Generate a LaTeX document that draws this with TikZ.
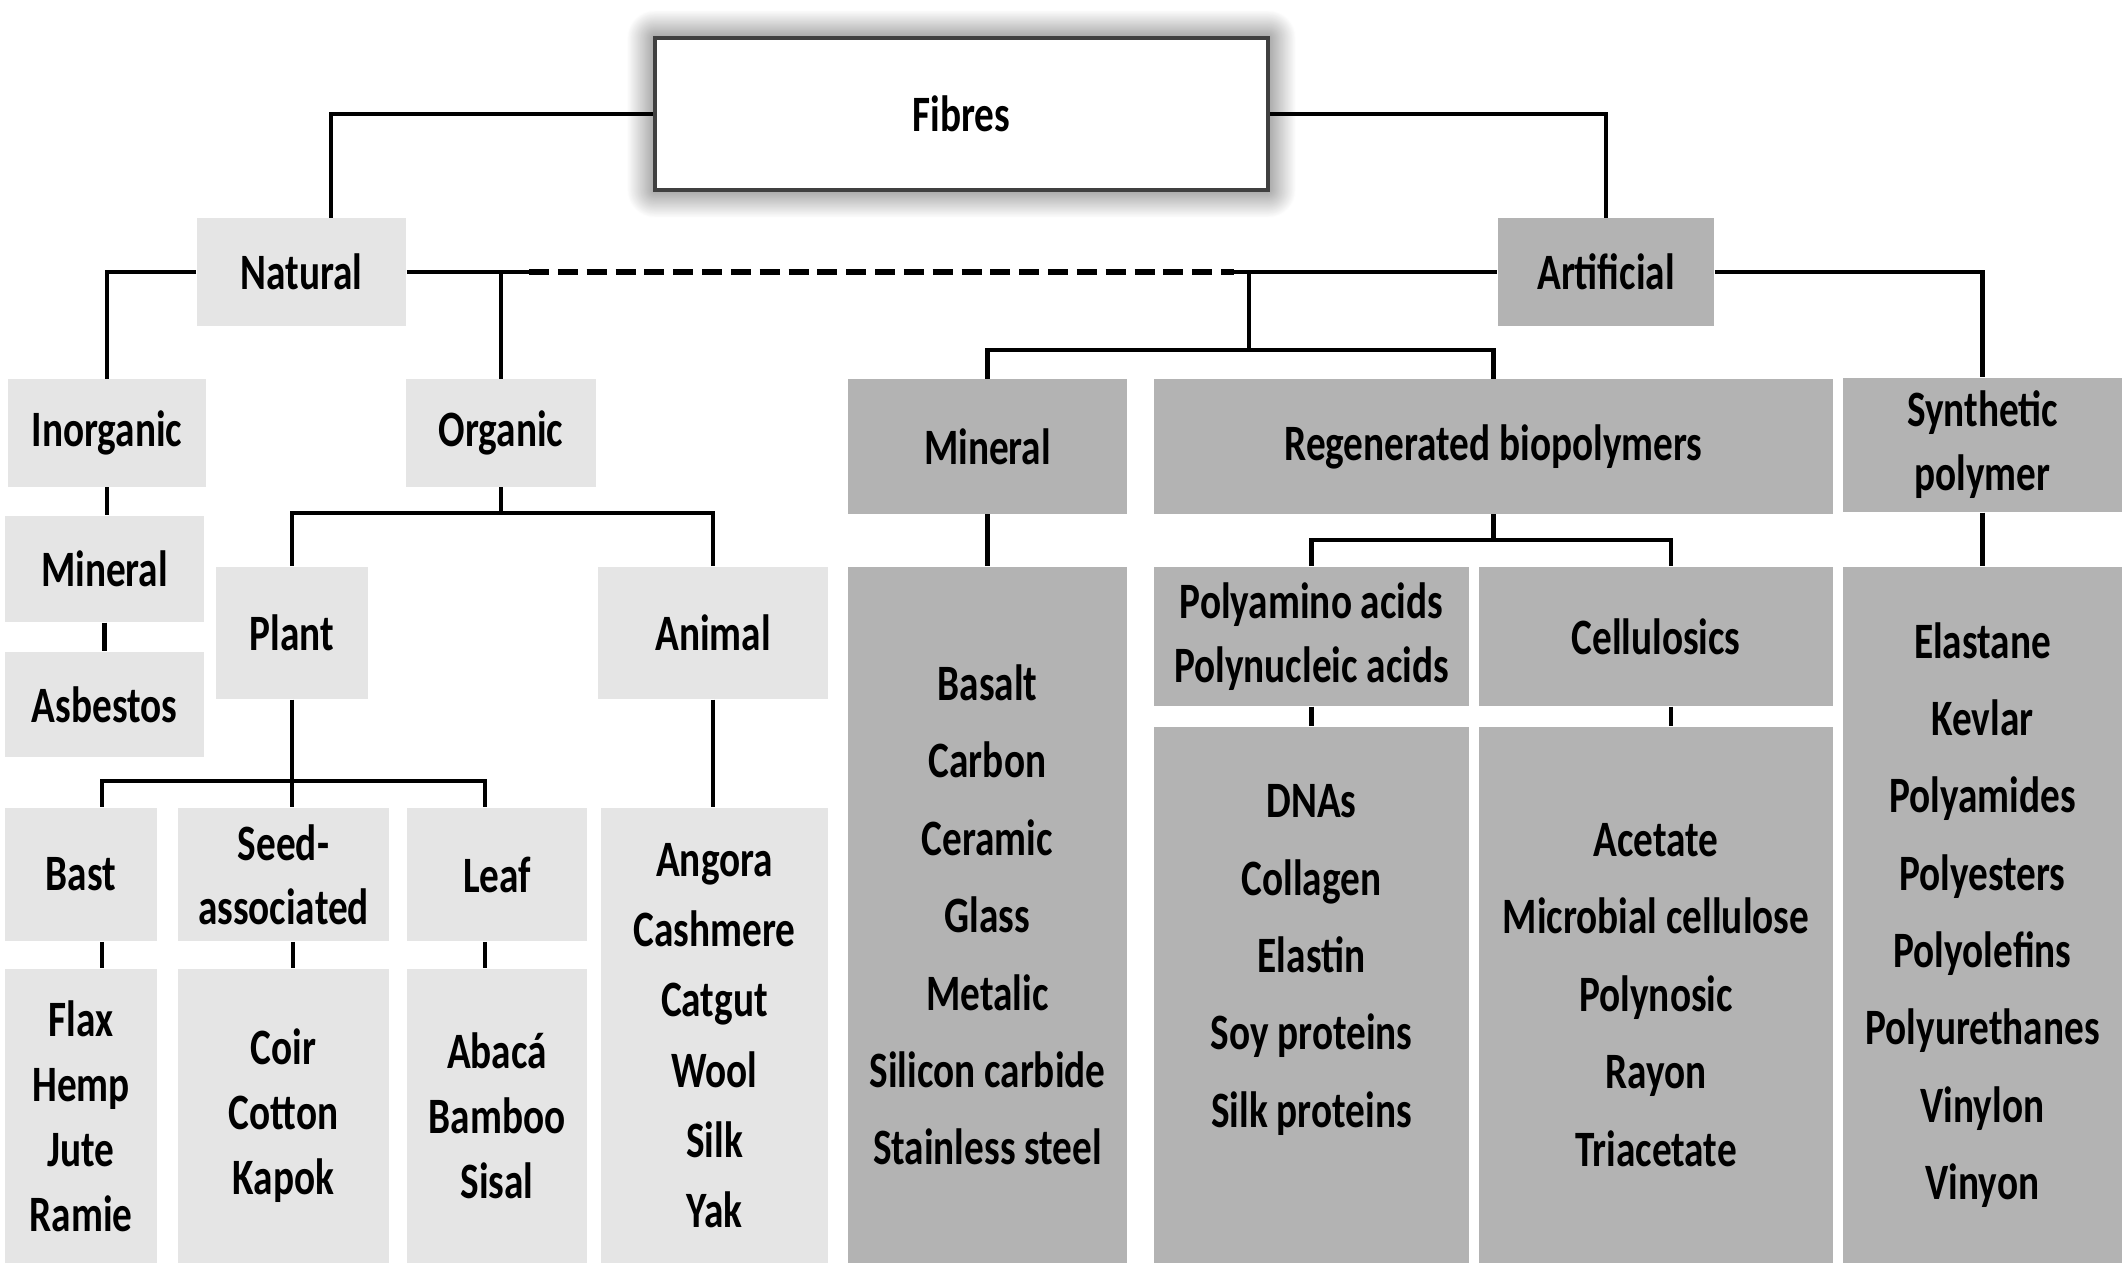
\documentclass[tikz,border=0pt]{standalone}
\usepackage{fontspec}
\setmainfont{Carlito}[FakeStretch=0.77]
\usetikzlibrary{calc,shadows.blur}
\definecolor{natfill}{HTML}{E5E5E5}
\definecolor{artfill}{HTML}{B3B3B3}
\tikzset{
  box/.style={inner sep=0pt, align=center, font=\bfseries\fontsize{14.5}{18.2}\selectfont},
  nat/.style={box, fill=natfill},
  art/.style={box, fill=artfill},
  items/.style={font=\bfseries\fontsize{14.5}{#1}\selectfont},
  link/.style={line width=1.2pt},
}
\begin{document}
\begin{tikzpicture}[x=0.01cm, y=-0.01cm]
  \useasboundingbox (0,0) rectangle (2128,1270);
  % top level
  \node[box, fill=white, draw=black!75, line width=1.2pt, minimum width=6.13cm, minimum height=1.52cm,
        blur shadow={shadow xshift=0pt, shadow yshift=0pt, shadow blur radius=8pt,
                     shadow blur steps=40, shadow opacity=70}]
        (fibres) at (961.5,114) {Fibres};
  \node[nat, minimum width=2.09cm, minimum height=1.07cm] (natural) at (301.5,272) {Natural};
  \node[art, minimum width=2.16cm, minimum height=1.07cm] (artificial) at (1606,272) {Artificial};
  % natural side
  \node[nat, minimum width=1.98cm, minimum height=1.07cm] (inorganic) at (107,433) {Inorganic};
  \node[nat, minimum width=1.99cm, minimum height=1.06cm] (mineralN) at (104.5,569) {Mineral};
  \node[nat, minimum width=1.99cm, minimum height=1.05cm] (asbestos) at (104.5,704.5) {Asbestos};
  \node[nat, minimum width=1.90cm, minimum height=1.07cm] (organic) at (501,433) {Organic};
  \node[nat, minimum width=1.52cm, minimum height=1.32cm] (plant) at (292,633) {Plant};
  \node[nat, minimum width=2.30cm, minimum height=1.32cm] (animal) at (713,633) {Animal};
  \node[nat, minimum width=1.52cm, minimum height=1.33cm] (bast) at (81,874.5) {Bast};
  \node[nat, minimum width=2.11cm, minimum height=1.33cm] (seed) at (283.5,874.5) {Seed-\\associated};
  \node[nat, minimum width=1.80cm, minimum height=1.33cm] (leaf) at (497,874.5) {Leaf};
  \node[nat, items=18.5, minimum width=1.52cm, minimum height=2.94cm] (bastlist) at (81,1116) {Flax\\Hemp\\Jute\\Ramie};
  \node[nat, items=18.5, minimum width=2.11cm, minimum height=2.94cm] (seedlist) at (283.5,1116) {Coir\\Cotton\\Kapok};
  \node[nat, items=18.5, minimum width=1.80cm, minimum height=2.94cm] (leaflist) at (497,1116) {Abacá\\Bamboo\\Sisal};
  \node[nat, items=20, minimum width=2.27cm, minimum height=4.55cm] (animallist) at (714.5,1035.5)
    {Angora\\Cashmere\\Catgut\\Wool\\Silk\\Yak};
  % artificial side
  \node[art, minimum width=2.79cm, minimum height=1.34cm] (mineralA) at (987.5,446.5) {Mineral};
  \node[art, minimum width=6.79cm, minimum height=1.34cm] (regen) at (1493.5,446.5) {Regenerated biopolymers};
  \node[art, minimum width=2.79cm, minimum height=1.34cm] (synth) at (1982.5,445) {Synthetic\\polymer};
  \node[art, minimum width=3.15cm, minimum height=1.39cm] (polyA) at (1311.5,636.5) {Polyamino acids\\Polynucleic acids};
  \node[art, minimum width=3.54cm, minimum height=1.39cm] (cellu) at (1656,636.5) {Cellulosics};
  \node[art, items=22, minimum width=2.79cm, minimum height=6.96cm] (minlist) at (987.5,915)
    {Basalt\\Carbon\\Ceramic\\Glass\\Metalic\\Silicon carbide\\Stainless steel};
  \node[art, items=22, minimum width=3.15cm, minimum height=5.36cm, text depth=0.78cm] (polylist) at (1311.5,995)
    {DNAs\\Collagen\\Elastin\\Soy proteins\\Silk proteins};
  \node[art, items=22, minimum width=3.54cm, minimum height=5.36cm] (celllist) at (1656,995)
    {Acetate\\Microbial cellulose\\Polynosic\\Rayon\\Triacetate};
  \node[art, items=22, minimum width=2.79cm, minimum height=6.96cm] (synthlist) at (1982.5,915)
    {Elastane\\Kevlar\\Polyamides\\Polyesters\\Polyolefins\\Polyurethanes\\Vinylon\\Vinyon};
  % connectors
  \coordinate (dashL) at (529,272);
  \coordinate (dashR) at (1234,272);
  \coordinate (artjoin) at (1249,272);
  \coordinate (artbus) at (1249,350);
  \coordinate (orgbus) at (501,513);
  \coordinate (plantbus) at (292,781);
  \coordinate (regbus) at (1493.5,540);
  \draw[link] (fibres.west) -| ($(natural.north)+(29.5,0)$);
  \draw[link] (fibres.east) -| (artificial.north);
  \draw[link] (natural.west) -| (inorganic.north);
  \draw[link] (natural.east) -| (organic.north);
  \draw[link] (natural.east) -- (dashL);
  \draw[link, line width=1.5pt, dash pattern=on 5.7pt off 2.5pt] (dashL) -- (dashR);
  \draw[link] (dashR) -- (artificial.west);
  \draw[link] (artjoin) -- (artbus);
  \draw[link] (mineralA.north) |- (artbus) -| (regen.north);
  \draw[link] (artificial.east) -| (synth.north);
  \draw[link] (inorganic.south) -- (inorganic.south |- mineralN.north);
  \draw[link] (mineralN.south) -- (mineralN.south |- asbestos.north);
  \draw[link] (organic.south) -- (orgbus);
  \draw[link] (orgbus) -| (plant.north);
  \draw[link] (orgbus) -| (animal.north);
  \draw[link] (plant.south) -- (plant.south |- seed.north);
  \draw[link] (plantbus) -| ($(bast.north)+(21,0)$);
  \draw[link] (plantbus) -| ($(leaf.north)+(-12,0)$);
  \draw[link] ($(bast.south)+(21,0)$) -- ($(bastlist.north)+(21,0)$);
  \draw[link] ($(seed.south)+(9.5,0)$) -- ($(seedlist.north)+(9.5,0)$);
  \draw[link] ($(leaf.south)+(-12,0)$) -- ($(leaflist.north)+(-12,0)$);
  \draw[link] (animal.south) -- (animal.south |- animallist.north);
  \draw[link] (mineralA.south) -- (minlist.north);
  \draw[link] (regen.south) -- (regbus);
  \draw[link] (regbus) -| (polyA.north);
  \draw[link] (regbus) -| ($(cellu.north)+(15,0)$);
  \draw[link] (polyA.south) -- (polyA.south |- polylist.north);
  \draw[link] ($(cellu.south)+(15,0)$) -- ($(celllist.north)+(15,0)$);
  \draw[link] (synth.south) -- (synthlist.north);
\end{tikzpicture}
\end{document}
